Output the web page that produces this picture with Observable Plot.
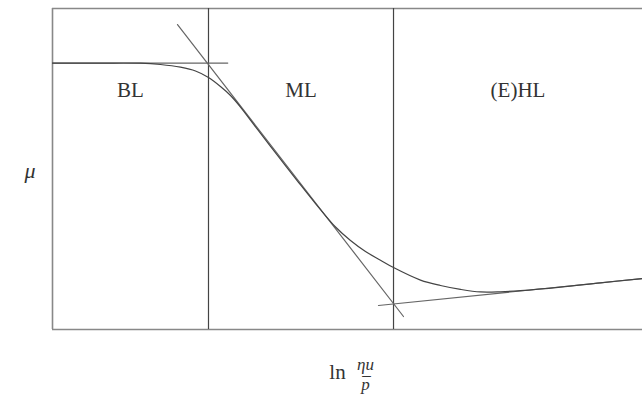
<!DOCTYPE html>
<html>
<head>
<meta charset="utf-8">
<script src="https://cdn.jsdelivr.net/npm/d3@7"></script>
<script src="https://cdn.jsdelivr.net/npm/@observablehq/plot@0.6"></script>
<style>
  html, body { margin: 0; padding: 0; background: #fff; }
</style>
</head>
<body>
<div id="chart"></div>
<script>
// Stribeck curve: friction coefficient μ against ln(ηu/p̄), in relative units (0–100)

// Regime boundaries along the x axis
const boundaries = [26.44, 57.8];
const regionEdges = [0, 26.44, 57.8, 100];
const regionNames = ["BL", "ML", "(E)HL"];

// Friction curve samples
const curveX = [0, 8.14, 14.92, 18.31, 21.69, 24.24, 26.44, 28.47, 30.17, 31.86, 34.75, 38.14,
  41.53, 44.58, 47.97, 50.51, 53.05, 55.59, 57.8, 62.37, 65.76, 69.15, 72.54, 75.93, 79.32,
  86.1, 92.88, 100];
const curveMu = [83.0, 83.0, 82.96, 82.55, 81.71, 80.53, 78.5, 75.7, 72.9, 69.31, 62.31, 54.21,
  46.26, 39.25, 31.93, 27.73, 24.3, 21.6, 19.3, 15.4, 13.71, 12.5, 11.7, 11.75, 12.1,
  13.2, 14.55, 15.89];

// Asymptotes: boundary-lubrication plateau, mixed-lubrication slope, hydrodynamic rise
const tangentId = ["plateau", "plateau", "mixed", "mixed", "hydro", "hydro"];
const tangentX = [0, 29.7, 21.19, 59.49, 55.25, 100];
const tangentMu = [83.0, 83.0, 95.0, 4.05, 7.48, 15.89];

const curve = curveX.map((x, i) => ({x, mu: curveMu[i]}));
const tangents = tangentX.map((x, i) => ({id: tangentId[i], x, mu: tangentMu[i]}));
const regions = regionNames.map((name, i) => ({name, x: (regionEdges[i] + regionEdges[i + 1]) / 2}));

const serif = "'Liberation Serif', 'DejaVu Serif', serif";
const ink = "#333";

const chart = Plot.plot({
  width: 642,
  height: 394,
  marginLeft: 52,
  marginRight: 0,
  marginTop: 8,
  marginBottom: 65,
  x: {domain: [0, 100], axis: null},
  y: {domain: [0, 100], axis: null},
  style: {background: "#fff"},
  marks: [
    // frame: left, top and bottom edges
    Plot.ruleX([0], {stroke: "#888", strokeWidth: 1.6}),
    Plot.ruleY([0, 100], {stroke: "#888", strokeWidth: 1.6}),
    // regime dividers
    Plot.ruleX(boundaries, {y1: 0, y2: 100, stroke: "#444", strokeWidth: 1.2}),
    // tangent lines
    Plot.line(tangents, {x: "x", y: "mu", z: "id", stroke: "#666", strokeWidth: 1.2}),
    // friction curve
    Plot.line(curve, {x: "x", y: "mu", curve: "catmull-rom", stroke: "#444", strokeWidth: 1.2}),
    // regime labels
    Plot.text(regions, {x: "x", text: "name", frameAnchor: "top", lineAnchor: "middle", dy: 82,
      fontFamily: serif, fontSize: 21, fill: ink}),
    // y label
    Plot.text(["μ"], {text: d => d, frameAnchor: "left", textAnchor: "middle", lineAnchor: "middle",
      dx: -22.5, dy: 2, fontFamily: serif, fontStyle: "italic", fontSize: 22, fill: ink}),
    // x label: ln (ηu / p̄)
    Plot.text(["ln"], {text: d => d, frameAnchor: "bottom", lineAnchor: "middle", dx: -10, dy: 43,
      fontFamily: serif, fontSize: 21, fill: ink}),
    Plot.text(["ηu"], {text: d => d, frameAnchor: "bottom", lineAnchor: "middle", dx: 18, dy: 35,
      fontFamily: serif, fontStyle: "italic", fontSize: 17, fill: ink}),
    Plot.text(["p"], {text: d => d, frameAnchor: "bottom", lineAnchor: "middle", dx: 18, dy: 55,
      fontFamily: serif, fontStyle: "italic", fontSize: 17, fill: ink}),
    // bar over p
    Plot.text(["¯"], {text: d => d, frameAnchor: "bottom", lineAnchor: "middle", dx: 19, dy: 54,
      fontFamily: serif, fontSize: 17, fill: ink})
  ]
});

document.getElementById("chart").append(chart);
</script>
</body>
</html>
